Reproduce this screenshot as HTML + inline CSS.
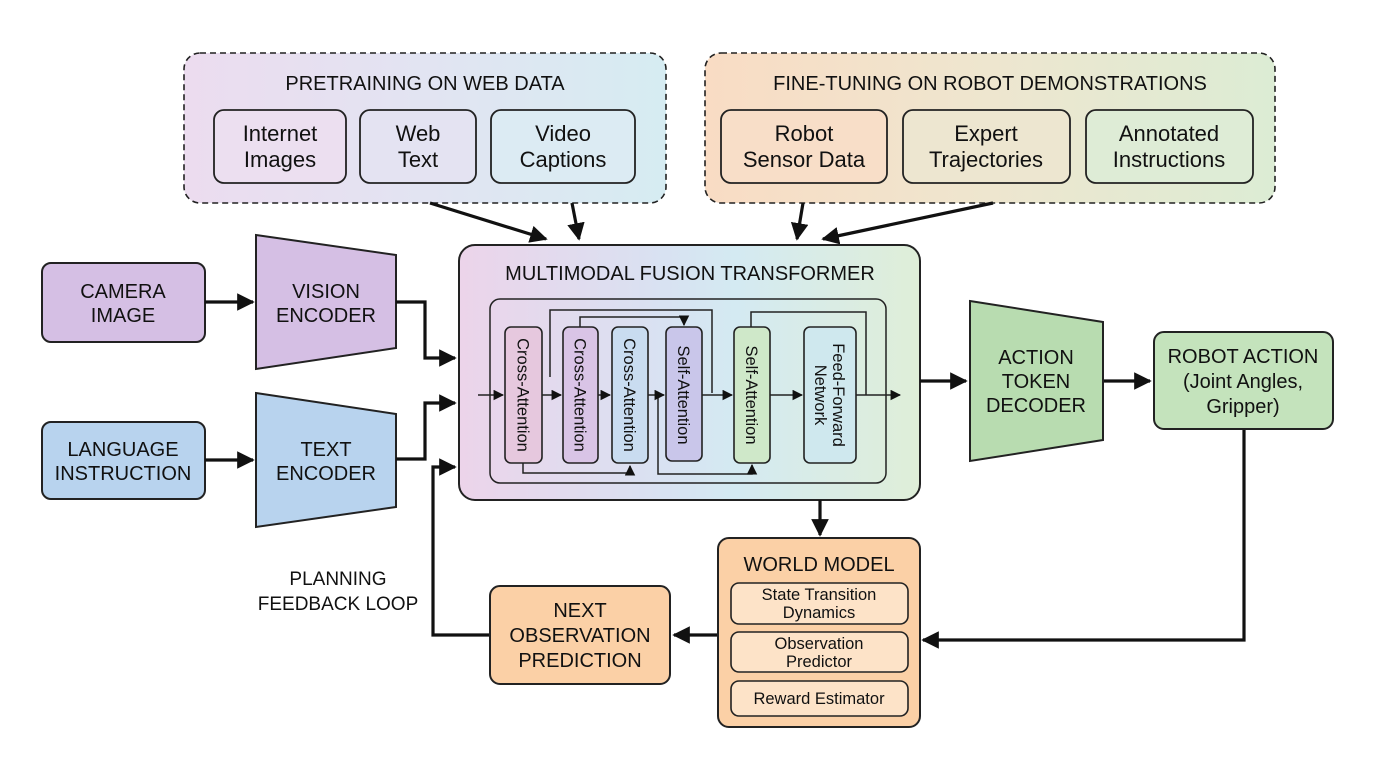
<!DOCTYPE html>
<html><head><meta charset="utf-8"><style>
html,body{margin:0;padding:0;background:#fff;}
svg{display:block;font-family:"Liberation Sans",sans-serif;}
text{fill:#111;text-anchor:middle;}
</style></head><body>
<svg width="1376" height="768" viewBox="0 0 1376 768" xmlns="http://www.w3.org/2000/svg">
<defs>
<linearGradient id="gTL" x1="0" x2="1" y1="0" y2="0"><stop offset="0" stop-color="#ecdcef"/><stop offset="0.5" stop-color="#e2e4f2"/><stop offset="1" stop-color="#d6ecf2"/></linearGradient>
<linearGradient id="gTR" x1="0" x2="1" y1="0" y2="0"><stop offset="0" stop-color="#f9dcc4"/><stop offset="0.5" stop-color="#eee6cf"/><stop offset="1" stop-color="#dcecd4"/></linearGradient>
<linearGradient id="gTF" x1="0" x2="1" y1="0" y2="0"><stop offset="0" stop-color="#ecd4ea"/><stop offset="0.45" stop-color="#d8e2f2"/><stop offset="0.6" stop-color="#d4eaf2"/><stop offset="1" stop-color="#dfeed8"/></linearGradient>
<marker id="a" viewBox="0 0 10 10" refX="9" refY="5" markerWidth="5.5" markerHeight="5.5" orient="auto-start-reverse" markerUnits="strokeWidth"><path d="M0,0 L10,5 L0,10 z" fill="#111"/></marker>
<marker id="s" viewBox="0 0 10 10" refX="9" refY="5" markerWidth="7" markerHeight="7" orient="auto" markerUnits="strokeWidth"><path d="M0,0 L10,5 L0,10 z" fill="#111"/></marker>
</defs>

<rect x="184" y="53" width="482" height="150" rx="16" fill="url(#gTL)" stroke="#222" stroke-width="1.6" stroke-dasharray="6,4"/>
<text x="425" y="90" font-size="20">PRETRAINING ON WEB DATA</text>
<g fill="none" stroke="#222" stroke-width="1.8">
<rect x="214" y="110" width="132" height="73" rx="10" fill="#ecdff0"/>
<rect x="360" y="110" width="116" height="73" rx="10" fill="#e4e3f2"/>
<rect x="491" y="110" width="144" height="73" rx="10" fill="#dcebf3"/>
</g>
<g font-size="22"><text x="280" y="141">Internet</text><text x="280" y="167">Images</text>
<text x="418" y="141">Web</text><text x="418" y="167">Text</text>
<text x="563" y="141">Video</text><text x="563" y="167">Captions</text></g>

<rect x="705" y="53" width="570" height="150" rx="16" fill="url(#gTR)" stroke="#222" stroke-width="1.6" stroke-dasharray="6,4"/>
<text x="990" y="90" font-size="20">FINE-TUNING ON ROBOT DEMONSTRATIONS</text>
<g fill="none" stroke="#222" stroke-width="1.8">
<rect x="721" y="110" width="166" height="73" rx="10" fill="#f8dec8"/>
<rect x="903" y="110" width="167" height="73" rx="10" fill="#ede6d0"/>
<rect x="1086" y="110" width="167" height="73" rx="10" fill="#deecd6"/>
</g>
<g font-size="22"><text x="804" y="141">Robot</text><text x="804" y="167">Sensor Data</text>
<text x="986" y="141">Expert</text><text x="986" y="167">Trajectories</text>
<text x="1169" y="141">Annotated</text><text x="1169" y="167">Instructions</text></g>

<g stroke="#111" stroke-width="3.2" fill="none" marker-end="url(#a)">
<line x1="430" y1="203" x2="546" y2="239"/>
<line x1="572" y1="203" x2="579" y2="239"/>
<line x1="803" y1="203" x2="797" y2="239"/>
<line x1="993" y1="203" x2="823" y2="239"/>
</g>

<rect x="459" y="245" width="461" height="255" rx="16" fill="url(#gTF)" stroke="#222" stroke-width="2"/>
<text x="690" y="280" font-size="20">MULTIMODAL FUSION TRANSFORMER</text>
<rect x="490" y="299" width="396" height="184" rx="10" fill="none" stroke="#222" stroke-width="1.5"/>
<g stroke="#222" stroke-width="1.5" fill="none">
<path d="M550,377 V310 H712 V393"/>
<path d="M580,327 V317 H684 V325" marker-end="url(#s)"/>
<path d="M523,463 V473 H630 V466" marker-end="url(#s)"/>
<path d="M658,395 V474 H752 V465" marker-end="url(#s)"/>
<path d="M751,327 V312 H866 V395"/>
<line x1="478" y1="395" x2="503" y2="395" marker-end="url(#s)"/>
<line x1="542" y1="395" x2="561" y2="395" marker-end="url(#s)"/>
<line x1="598" y1="395" x2="610" y2="395" marker-end="url(#s)"/>
<line x1="648" y1="395" x2="664" y2="395" marker-end="url(#s)"/>
<line x1="702" y1="395" x2="732" y2="395" marker-end="url(#s)"/>
<line x1="770" y1="395" x2="802" y2="395" marker-end="url(#s)"/>
<line x1="856" y1="395" x2="900" y2="395" marker-end="url(#s)"/>
</g>
<g stroke="#222" stroke-width="1.6">
<rect x="505" y="327" width="37" height="136" rx="6" fill="#e6c8de"/>
<rect x="563" y="327" width="35" height="136" rx="6" fill="#d9c4e6"/>
<rect x="612" y="327" width="36" height="136" rx="6" fill="#c9dcf0"/>
<rect x="666" y="327" width="36" height="134" rx="6" fill="#c9c6ea"/>
<rect x="734" y="327" width="36" height="136" rx="6" fill="#cfe8c9"/>
<rect x="804" y="327" width="52" height="136" rx="6" fill="#cfe8ee"/>
</g>
<g font-size="16.5">
<text transform="translate(523.5,395) rotate(90)" dy="6">Cross-Attention</text>
<text transform="translate(580.5,395) rotate(90)" dy="6">Cross-Attention</text>
<text transform="translate(630,395) rotate(90)" dy="6">Cross-Attention</text>
<text transform="translate(684,395) rotate(90)" dy="6">Self-Attention</text>
<text transform="translate(752,395) rotate(90)" dy="6">Self-Attention</text>
<text transform="translate(830,395) rotate(90)" dy="-3">Feed-Forward</text>
<text transform="translate(830,395) rotate(90)" dy="15">Network</text>
</g>

<rect x="42" y="263" width="163" height="79" rx="9" fill="#d5bfe4" stroke="#222" stroke-width="2"/>
<text x="123" y="298" font-size="20">CAMERA</text><text x="123" y="322" font-size="20">IMAGE</text>
<rect x="42" y="422" width="163" height="77" rx="9" fill="#b8d3ee" stroke="#222" stroke-width="2"/>
<text x="123" y="456" font-size="20">LANGUAGE</text><text x="123" y="480" font-size="20">INSTRUCTION</text>
<polygon points="256,235 396,255 396,348 256,369" fill="#d5bfe4" stroke="#222" stroke-width="2"/>
<text x="326" y="298" font-size="20">VISION</text><text x="326" y="322" font-size="20">ENCODER</text>
<polygon points="256,393 396,414 396,507 256,527" fill="#b8d3ee" stroke="#222" stroke-width="2"/>
<text x="326" y="456" font-size="20">TEXT</text><text x="326" y="480" font-size="20">ENCODER</text>

<g stroke="#111" stroke-width="3.2" fill="none" marker-end="url(#a)">
<line x1="205" y1="302" x2="253" y2="302"/>
<line x1="205" y1="460" x2="253" y2="460"/>
<path d="M396,302 H425 V358 H455"/>
<path d="M396,459 H425 V403 H455"/>
<path d="M490,635 H433 V467 H455"/>
<line x1="920" y1="381" x2="966" y2="381"/>
<line x1="1103" y1="381" x2="1150" y2="381"/>
<line x1="820" y1="500" x2="820" y2="535"/>
<path d="M1244,429 V640 H923"/>
<line x1="718" y1="635" x2="674" y2="635"/>
</g>

<polygon points="970,301 1103,322 1103,440 970,461" fill="#b8dcb0" stroke="#222" stroke-width="2"/>
<text x="1036" y="364" font-size="20">ACTION</text><text x="1036" y="388" font-size="20">TOKEN</text><text x="1036" y="412" font-size="20">DECODER</text>
<rect x="1154" y="332" width="179" height="97" rx="10" fill="#c4e3bc" stroke="#222" stroke-width="2"/>
<text x="1243" y="363" font-size="20">ROBOT ACTION</text><text x="1243" y="388" font-size="20">(Joint Angles,</text><text x="1243" y="413" font-size="20">Gripper)</text>

<rect x="718" y="538" width="202" height="189" rx="11" fill="#fbd0a6" stroke="#222" stroke-width="2"/>
<text x="819" y="571" font-size="20">WORLD MODEL</text>
<g fill="#fde3c8" stroke="#222" stroke-width="1.6">
<rect x="731" y="583" width="177" height="41" rx="8"/>
<rect x="731" y="632" width="177" height="40" rx="8"/>
<rect x="731" y="681" width="177" height="35" rx="8"/>
</g>
<g font-size="16.5"><text x="819" y="600">State Transition</text><text x="819" y="618">Dynamics</text>
<text x="819" y="649">Observation</text><text x="819" y="667">Predictor</text>
<text x="819" y="704">Reward Estimator</text></g>

<rect x="490" y="586" width="180" height="98" rx="10" fill="#fbd0a6" stroke="#222" stroke-width="2"/>
<text x="580" y="617" font-size="20">NEXT</text><text x="580" y="642" font-size="20">OBSERVATION</text><text x="580" y="667" font-size="20">PREDICTION</text>

<text x="338" y="585" font-size="19">PLANNING</text>
<text x="338" y="610" font-size="19">FEEDBACK LOOP</text>
</svg>
</body></html>
